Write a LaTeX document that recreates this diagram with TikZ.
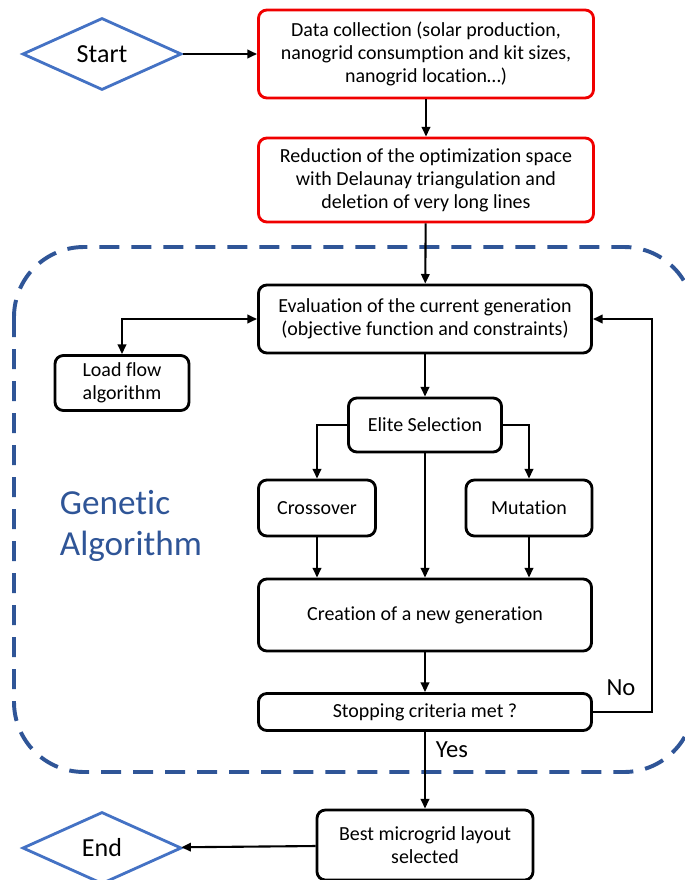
\documentclass[tikz,border=0pt]{standalone}
\usepackage{fontspec}
\setmainfont{Carlito}[Ligatures=NoCommon]
\usetikzlibrary{arrows.meta, positioning, shapes.geometric, calc}
\definecolor{flowRed}{HTML}{F00000}
\definecolor{flowBlue}{HTML}{4472C4}
\definecolor{gaBlue}{HTML}{2F5597}

\begin{document}
\begin{tikzpicture}[
  x=0.025cm, y=-0.025cm,
  font=\fontsize{14.2}{16.5}\selectfont,
  box/.style={draw, line width=2pt, rounded corners=6pt, align=center, inner sep=3pt},
  inbox/.style={box, draw=flowRed},
  term/.style={diamond, draw=flowBlue, line width=2pt, minimum width=3.975cm,
               minimum height=1.8cm, inner sep=0pt, font=\fontsize{18.5}{21}\selectfont},
  a/.style={-{Triangle[length=2.4mm,width=2.1mm]}, line width=1.5pt},
  aa/.style={{Triangle[length=2.4mm,width=2.1mm]}-{Triangle[length=2.4mm,width=2.1mm]}, line width=1.5pt}
]
\useasboundingbox (0,0) rectangle (684,880);

% genetic algorithm frame
\draw[gaBlue, line width=2.8pt, dash pattern=on 0.5cm off 0.3cm, rounded corners=1.75cm]
  (14,247) rectangle (694,772);
\node[gaBlue, align=left, anchor=west, font=\fontsize{25}{29.5}\selectfont] (ga) at (55,526) {Genetic\\Algorithm};

\node[term] (start) at (102,54) {Start};
\node[inbox, minimum width=8.375cm, minimum height=2.2cm] (data) at (426,54)
  {Data collection (solar production,\\nanogrid consumption and kit sizes,\\nanogrid location…)};
\node[inbox, minimum width=8.375cm, minimum height=2.1cm] (reduce) at (426,180)
  {Reduction of the optimization space\\with Delaunay triangulation and\\deletion of very long lines};

\node[box, minimum width=8.325cm, minimum height=1.7cm] (eval) at (425,319)
  {Evaluation of the current generation\\(objective function and constraints)};
\node[box, minimum width=3.35cm, minimum height=1.375cm] (loadflow) at (122,383) {Load flow\\algorithm};
\node[box, minimum width=3.825cm, minimum height=1.35cm] (elite) at (425,425) {Elite Selection};
\node[box, minimum width=2.925cm, minimum height=1.4cm] (cross) at (317,508) {Crossover};
\node[box, minimum width=3.15cm, minimum height=1.4cm] (mut) at (529,508) {Mutation};
\node[box, minimum width=8.325cm, minimum height=1.8cm] (create) at (425,615) {Creation of a new generation};
\node[box, minimum width=8.325cm, minimum height=0.925cm] (stop) at (425,712) {Stopping criteria met ?};
\node[box, minimum width=5.4cm, minimum height=1.75cm] (best) at (425,845) {Best microgrid layout\\selected};
\node[term] (finish) at (102,848) {End};

\coordinate (loop) at (652,712);

\draw[a] (start) -- (data);
\draw[a] (data) -- (reduce);
\draw[a] (reduce) -- (eval);
\draw[aa] (loadflow.north) |- (eval.west);
\draw[a] (eval) -- (elite);
\draw[a] (elite.west) -| (cross.north);
\draw[a] (elite.east) -| (mut.north);
\draw[a] (elite) -- (create);
\foreach \n in {cross,mut}
  \draw[a] (\n.south) -- (\n.south |- create.north);
\draw[a] (create) -- (stop);
\draw[a] (stop.east) -- (loop) |- (eval.east);
\draw[a] (stop) -- (best);
\draw[a] (best) -- (finish);

\node[font=\fontsize{17.5}{20}\selectfont] (no) at (621,688) {No};
\node[font=\fontsize{17.5}{20}\selectfont] (yes) at (452,750) {Yes};
\end{tikzpicture}
\end{document}
